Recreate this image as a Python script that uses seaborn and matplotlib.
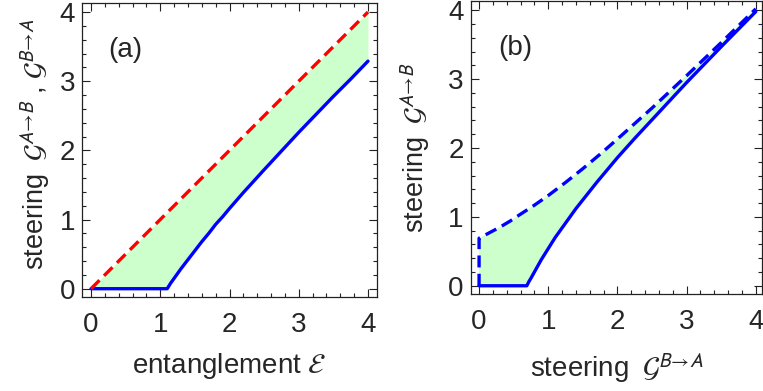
import numpy as np
import matplotlib
matplotlib.use("Agg")
import matplotlib.pyplot as plt
import seaborn as sns
from matplotlib.ticker import MultipleLocator

# ---- panel (a): steering bounds versus entanglement ----
ent_grid = [0.00, 1.10, 1.15, 1.20, 1.30, 1.40, 1.50, 1.60, 1.70, 1.80, 1.90,
            2.00, 2.20, 2.50, 2.75, 3.00, 3.25, 3.50, 3.75, 4.00]
steer_max_a = [0.00, 1.10, 1.15, 1.20, 1.30, 1.40, 1.50, 1.60, 1.70, 1.80, 1.90,
               2.00, 2.20, 2.50, 2.75, 3.00, 3.25, 3.50, 3.75, 4.00]
steer_min_a = [0.00, 0.00, 0.08, 0.15, 0.29, 0.42, 0.55, 0.68, 0.80, 0.93, 1.04,
               1.16, 1.39, 1.72, 1.99, 2.26, 2.52, 2.78, 3.03, 3.29]

# ---- panel (b): G^{A->B} versus G^{B->A} ----
gba_up = [0.00, 0.00, 0.15, 0.30, 0.45, 0.60, 0.80, 1.00, 1.25, 1.50, 1.75,
          2.00, 2.50, 3.00, 3.50, 4.00]
gab_up = [0.00, 0.69, 0.77, 0.85, 0.94, 1.04, 1.17, 1.31, 1.50, 1.70, 1.91,
          2.13, 2.58, 3.05, 3.53, 4.02]
gba_low = [0.00, 0.69, 0.72, 0.75, 0.80, 0.85, 0.90, 1.00, 1.10, 1.20, 1.30,
           1.40, 1.55, 1.70, 2.00, 2.25, 2.50, 3.00, 3.50, 4.00]
gab_low = [0.00, 0.00, 0.06, 0.11, 0.20, 0.29, 0.38, 0.54, 0.70, 0.84, 0.98,
           1.12, 1.31, 1.50, 1.86, 2.14, 2.41, 2.95, 3.47, 3.98]

tick_vals = [0, 1, 2, 3, 4]

sns.set_style("ticks")
plt.rcParams["font.family"] = ["Liberation Sans", "DejaVu Sans"]
plt.rcParams["mathtext.fontset"] = "stixsans"

FILL = "#ccffcc"
BLUE = "#0000ff"
RED = "#ff0000"
FRAME = "#222222"
TICK_FS = 20
LABEL_FS = 20

fig = plt.figure(figsize=(7.63, 3.91), dpi=100)
ax_a = fig.add_axes([0.1075, 0.2404, 0.3866, 0.7519])
ax_b = fig.add_axes([0.6170, 0.2480, 0.3817, 0.7505])

# panel (a)
ax_a.fill_between(ent_grid, steer_min_a, steer_max_a, color=FILL, lw=0, zorder=1)
sns.lineplot(x=ent_grid, y=steer_min_a, ax=ax_a, color=BLUE, lw=2.4,
             estimator=None, sort=False, zorder=3)
sns.lineplot(x=ent_grid, y=steer_max_a, ax=ax_a, color=RED, lw=2.4,
             linestyle=(0, (3.6, 1.9)), estimator=None, sort=False, zorder=4)
ax_a.set_xlim(-0.13, 4.13)
ax_a.set_ylim(-0.12, 4.13)
ax_a.set_xlabel(r"entanglement $\mathcal{E}$", fontsize=LABEL_FS)
ax_a.set_ylabel(r"steering $\;\mathcal{G}^{A\!\rightarrow\!B}$ , "
                r"$\mathcal{G}^{B\!\rightarrow\!A}$", fontsize=19.5)
ax_a.text(0.25, 3.45, "(a)", fontsize=TICK_FS, va="center", ha="left")

# panel (b)
poly_x = np.concatenate([gba_up, gba_low[::-1]])
poly_y = np.concatenate([gab_up, gab_low[::-1]])
ax_b.fill(poly_x, poly_y, color=FILL, lw=0, zorder=1)
sns.lineplot(x=gba_low, y=gab_low, ax=ax_b, color=BLUE, lw=2.4,
             estimator=None, sort=False, zorder=3)
sns.lineplot(x=gba_up, y=gab_up, ax=ax_b, color=BLUE, lw=2.4,
             linestyle=(0, (3.6, 1.9)), estimator=None, sort=False, zorder=4)
ax_b.set_xlim(-0.12, 4.09)
ax_b.set_ylim(-0.12, 4.14)
ax_b.set_xlabel(r"steering $\;\mathcal{G}^{B\!\rightarrow\!A}$", fontsize=LABEL_FS)
ax_b.set_ylabel(r"steering $\;\mathcal{G}^{A\!\rightarrow\!B}$", fontsize=19.5)
ax_b.text(0.27, 3.45, "(b)", fontsize=TICK_FS, va="center", ha="left")

for ax in (ax_a, ax_b):
    ax.set_xticks(tick_vals)
    ax.set_yticks(tick_vals)
    ax.xaxis.set_minor_locator(MultipleLocator(0.2))
    ax.yaxis.set_minor_locator(MultipleLocator(0.2))
    ax.tick_params(which="both", direction="in", top=True, right=True,
                   color=FRAME, width=0.8, labelsize=TICK_FS)
    ax.tick_params(which="major", length=5.5)
    ax.tick_params(which="minor", length=3)
    ax.tick_params(axis="x", which="major", pad=11)
    ax.tick_params(axis="y", which="major", pad=5)
    for sp in ax.spines.values():
        sp.set_color(FRAME)
        sp.set_linewidth(0.9)

ax_a.xaxis.set_label_coords(0.5, -0.185)
ax_a.yaxis.set_label_coords(-0.10, 0.52)
ax_b.xaxis.set_label_coords(0.5, -0.195)
ax_b.yaxis.set_label_coords(-0.13, 0.5)

fig.savefig("out.png", dpi=100)
